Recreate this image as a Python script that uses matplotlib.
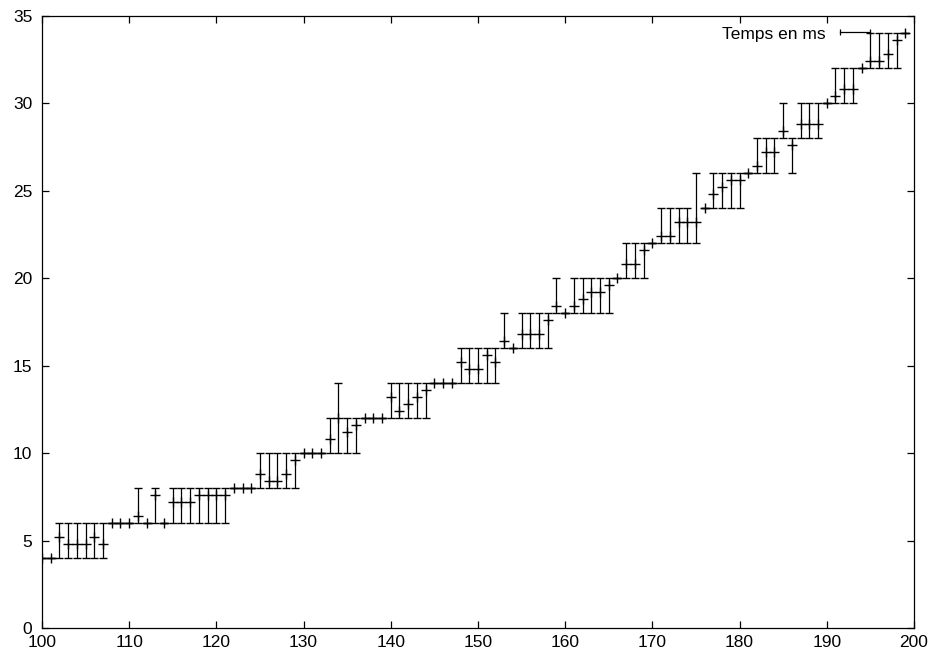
import matplotlib
matplotlib.use("Agg")
import matplotlib.pyplot as plt
from matplotlib.lines import Line2D

plt.rcParams['font.family'] = ['Liberation Sans', 'DejaVu Sans']

# one measurement per input size 100..199 : mean, min and max time (ms)
sizes = list(range(100, 200))

t_mean = [4, 4, 5.2, 4.8, 4.8, 4.8, 5.2, 4.8, 6, 6,
          6, 6.4, 6, 7.6, 6, 7.2, 7.2, 7.2, 7.6, 7.6,
          7.6, 7.6, 8, 8, 8, 8.8, 8.4, 8.4, 8.8, 9.6,
          10, 10, 10, 10.8, 12, 11.2, 11.6, 12, 12, 12,
          13.2, 12.4, 12.8, 13.2, 13.6, 14, 14, 14, 15.2, 14.8,
          14.8, 15.6, 15.2, 16.4, 16, 16.8, 16.8, 16.8, 17.6, 18.4,
          18, 18.4, 18.8, 19.2, 19.2, 19.6, 20, 20.8, 20.8, 21.6,
          22, 22.4, 22.4, 23.2, 23.2, 23.2, 24, 24.8, 25.2, 25.6,
          25.6, 26, 26.4, 27.2, 27.2, 28.4, 27.6, 28.8, 28.8, 28.8,
          30, 30.4, 30.8, 30.8, 32, 32.4, 32.4, 32.8, 33.6, 34]

t_min = [4, 4, 4, 4, 4, 4, 4, 4, 6, 6,
         6, 6, 6, 6, 6, 6, 6, 6, 6, 6,
         6, 6, 8, 8, 8, 8, 8, 8, 8, 8,
         10, 10, 10, 10, 10, 10, 10, 12, 12, 12,
         12, 12, 12, 12, 12, 14, 14, 14, 14, 14,
         14, 14, 14, 16, 16, 16, 16, 16, 16, 18,
         18, 18, 18, 18, 18, 18, 20, 20, 20, 20,
         22, 22, 22, 22, 22, 22, 24, 24, 24, 24,
         24, 26, 26, 26, 26, 28, 26, 28, 28, 28,
         30, 30, 30, 30, 32, 32, 32, 32, 32, 34]

t_max = [4, 4, 6, 6, 6, 6, 6, 6, 6, 6,
         6, 8, 6, 8, 6, 8, 8, 8, 8, 8,
         8, 8, 8, 8, 8, 10, 10, 10, 10, 10,
         10, 10, 10, 12, 14, 12, 12, 12, 12, 12,
         14, 14, 14, 14, 14, 14, 14, 14, 16, 16,
         16, 16, 16, 18, 16, 18, 18, 18, 18, 20,
         18, 20, 20, 20, 20, 20, 20, 22, 22, 22,
         22, 24, 24, 24, 24, 26, 24, 26, 26, 26,
         26, 26, 28, 28, 28, 30, 28, 30, 30, 30,
         30, 32, 32, 32, 32, 34, 34, 34, 34, 34]

err_low = [m - lo for m, lo in zip(t_mean, t_min)]
err_high = [hi - m for m, hi in zip(t_mean, t_max)]

fig = plt.figure(figsize=(9.35, 6.58), dpi=100)
ax = fig.add_axes([0.0449, 0.0456, 0.9326, 0.9301])

ax.errorbar(sizes, t_mean, yerr=[err_low, err_high], fmt='+', color='black',
            ecolor='black', elinewidth=0.9, capsize=3.0, capthick=0.9,
            markersize=7, markeredgewidth=1.0)

ax.set_xlim(100, 200)
ax.set_ylim(0, 35)
ax.set_xticks(range(100, 201, 10))
ax.set_yticks(range(0, 36, 5))
ax.tick_params(direction='in', length=5, width=0.9, top=True, right=True,
               labelsize=12.5)
ax.tick_params(axis='x', pad=5)
ax.tick_params(axis='y', pad=7)
for s in ax.spines.values():
    s.set_linewidth(0.9)

handle = Line2D([], [], color='black', lw=0.9, marker='|', markersize=5,
                markeredgewidth=0.9)
ax.legend([handle], ['Temps en ms'], loc='upper right', frameon=False,
          markerfirst=False, numpoints=2, fontsize=12.5, handlelength=2.3,
          bbox_to_anchor=(0.955, 0.983), borderaxespad=0, borderpad=0,
          handletextpad=0.5)

fig.savefig('out.png', dpi=100)
